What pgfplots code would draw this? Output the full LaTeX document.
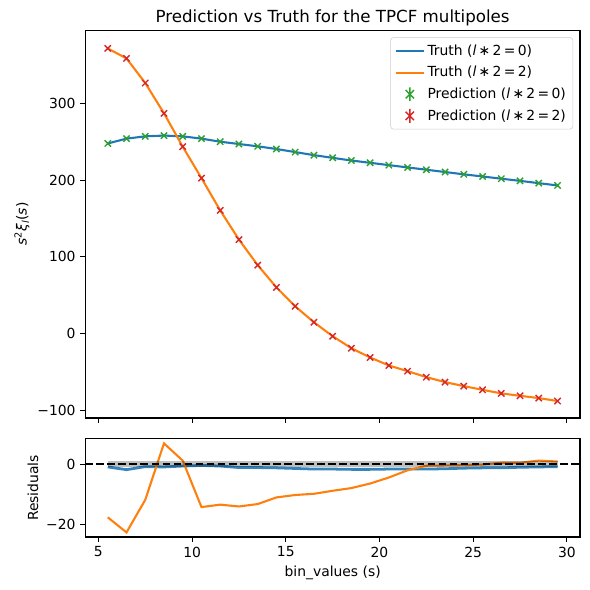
\documentclass[border=0pt]{standalone}
\usepackage{pgfplots}
\usepackage{pgfplotstable}
\pgfplotsset{compat=1.18}
\usepackage{fontspec}
\setmainfont{DejaVu Sans}

\definecolor{c0}{HTML}{1F77B4}
\definecolor{c1}{HTML}{FF7F0E}
\definecolor{c2}{HTML}{2CA02C}
\definecolor{c3}{HTML}{D62728}

% multipoles: truth and prediction
\pgfplotstableread{
s     truth0 truth2 pred0  pred2
5.5   247.7  371.5  247.7  371.5
6.5   254.0  358.5  254.0  358.5
7.5   257.0  326.5  257.0  326.5
8.5   258.0  287.0  258.0  287.0
9.5   257.0  243.5  257.0  243.5
10.5  254.0  202.5  254.0  202.5
11.5  250.0  160.5  250.0  160.5
12.5  247.0  122.5  247.0  122.5
13.5  244.0   89.2  244.0   89.2
14.5  240.5   60.2  240.5   60.2
15.5  236.5   35.6  236.5   35.6
16.5  232.5   14.8  232.5   14.8
17.5  229.0   -3.4  229.0   -3.4
18.5  225.5  -19.0  225.5  -19.0
19.5  222.5  -31.1  222.5  -31.1
20.5  219.5  -41.5  219.5  -41.5
21.5  216.5  -48.9  216.5  -48.9
22.5  213.5  -56.7  213.5  -56.7
23.5  210.5  -63.2  210.5  -63.2
24.5  207.5  -68.4  207.5  -68.4
25.5  204.7  -73.2  204.7  -73.2
26.5  201.8  -77.9  201.8  -77.9
27.5  199.0  -81.0  199.0  -81.0
28.5  196.0  -84.0  196.0  -84.0
29.5  193.0  -87.8  193.0  -87.8
}\multipoles

% residuals
\pgfplotstableread{
s     res0   res2
5.5   -0.9  -17.6
6.5   -1.8  -22.6
7.5   -0.8  -11.8
8.5   -0.9    6.9
9.5   -0.6    1.2
10.5  -0.4  -14.2
11.5  -0.6  -13.4
12.5  -1.1  -14.0
13.5  -1.1  -13.2
14.5  -1.2  -11.0
15.5  -1.4  -10.2
16.5  -1.6   -9.8
17.5  -1.6   -8.8
18.5  -1.7   -7.9
19.5  -1.7   -6.4
20.5  -1.6   -4.4
21.5  -1.6   -2.0
22.5  -1.6   -0.5
23.5  -1.5   -0.4
24.5  -1.3   -0.3
25.5  -1.2   -0.1
26.5  -1.2    0.5
27.5  -1.0    0.5
28.5  -0.9    1.2
29.5  -0.8    0.9
}\residuals

\pgfplotsset{
  panel/.style={
    scale only axis, width=356.2pt,
    xmin=4.3, xmax=30.7,
    xtick={5,10,...,30},
    tick align=outside, tick pos=left,
    major tick length=3.5pt,
    every tick/.style={black, line width=0.8pt},
    axis line style={line width=0.8pt},
    tick label style={font=\fontsize{10}{12}\selectfont},
    label style={font=\fontsize{10}{12}\selectfont},
    /pgf/number format/assume math mode=true,
  },
  predmark/.style={only marks, mark=x, mark size=3.2pt, mark options={line width=1pt},
    error bars/.cd, y dir=both, y fixed=1.5, error bar style={line width=1pt},
    error mark=none},
}

\begin{document}
\begin{tikzpicture}
\useasboundingbox (0pt,0pt) rectangle (424.8pt,424.8pt);

\begin{axis}[panel,
  at={(61.4pt,123.8pt)}, anchor=south west, height=279.1pt,
  ymin=-110, ymax=395,
  ytick={-100,0,100,200,300}, yticklabels={−100,0,100,200,300},
  xticklabels=\empty,
  ylabel={\textit{s}\textsuperscript{2}\textit{ξ}\textsubscript{\textit{l}}(\textit{s})},
  ylabel style={at={(rel axis cs:0,0.5)}, yshift=45.6pt, anchor=center},
  title={Prediction vs Truth for the TPCF multipoles},
  title style={at={(rel axis cs:0.5,1)}, anchor=base, inner sep=0pt,
    font=\fontsize{12}{14}\selectfont},
  legend cell align=left,
  legend style={at={(rel axis cs:1,1)}, anchor=north east,
    xshift=-5pt, yshift=-5pt, draw=black!20, rounded corners=2pt,
    fill=white, fill opacity=0.8, text opacity=1,
    font=\fontsize{10}{12}\selectfont, row sep=2.5pt, inner sep=3pt},
]
\addplot[c0, line width=1.5pt, forget plot] table[x=s, y=truth0] {\multipoles};
\addplot[c1, line width=1.5pt, forget plot] table[x=s, y=truth2] {\multipoles};
\addplot[c2, forget plot, predmark] table[x=s, y=pred0] {\multipoles};
\addplot[c3, forget plot, predmark] table[x=s, y=pred2] {\multipoles};

\addlegendimage{legend image code/.code={\draw[c0, line width=1.5pt] (0pt,0pt) -- (20pt,0pt);}}
\addlegendentry{Truth (\textit{l}\,∗\,2\,=\,0)}
\addlegendimage{legend image code/.code={\draw[c1, line width=1.5pt] (0pt,0pt) -- (20pt,0pt);}}
\addlegendentry{Truth (\textit{l}\,∗\,2\,=\,2)}
\addlegendimage{legend image code/.code={\draw[c2, line width=1pt] (7pt,-3pt) -- (13pt,3pt) (7pt,3pt) -- (13pt,-3pt) (10pt,-5pt) -- (10pt,5pt);}}
\addlegendentry{Prediction (\textit{l}\,∗\,2\,=\,0)}
\addlegendimage{legend image code/.code={\draw[c3, line width=1pt] (7pt,-3pt) -- (13pt,3pt) (7pt,3pt) -- (13pt,-3pt) (10pt,-5pt) -- (10pt,5pt);}}
\addlegendentry{Prediction (\textit{l}\,∗\,2\,=\,2)}
\end{axis}

\begin{axis}[panel,
  at={(61.4pt,38.2pt)}, anchor=south west, height=70.6pt,
  ymin=-24.1, ymax=8.4,
  ytick={-20,0}, yticklabels={−20,0},
  xlabel={bin\_values (s)},
  xlabel style={at={(rel axis cs:0.5,0)}, yshift=-25.9pt, anchor=center},
  ylabel={Residuals},
  ylabel style={at={(rel axis cs:0,0.5)}, yshift=37.7pt, anchor=center},
]
\addplot[c0, line width=2pt, opacity=0.9] table[x=s, y=res0] {\residuals};
\addplot[c1, line width=1.5pt] table[x=s, y=res2] {\residuals};
\addplot[fill=black, fill opacity=0.25, draw=none]
  coordinates {(5.5,-1) (29.5,-1) (29.5,1) (5.5,1)} -- cycle;
\addplot[black, line width=1.5pt, dash pattern=on 5.55pt off 2.4pt]
  coordinates {(4.3,0) (30.7,0)};
\end{axis}
\end{tikzpicture}
\end{document}
